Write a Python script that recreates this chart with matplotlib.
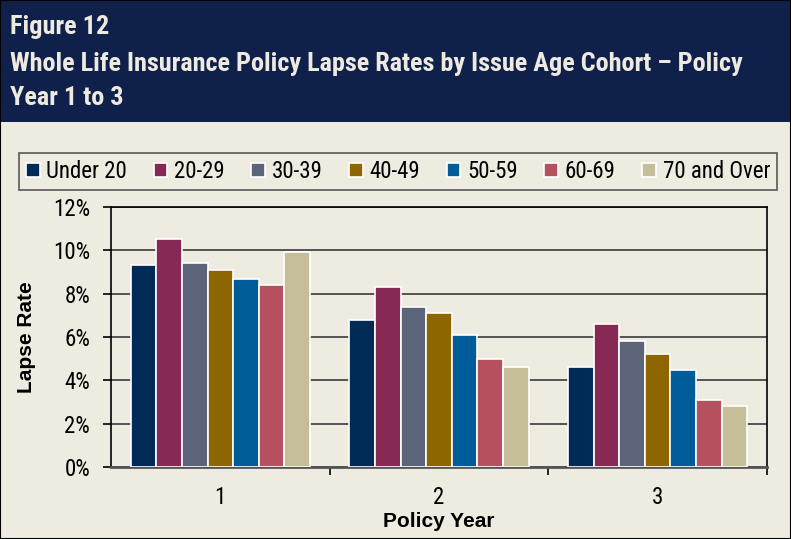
import matplotlib.pyplot as plt
from matplotlib.patches import Rectangle
from matplotlib import font_manager
import numpy as np

years = ["1", "2", "3"]
cohorts = ["Under 20", "20-29", "30-39", "40-49", "50-59", "60-69", "70 and Over"]
under_20 = [9.3, 6.8, 4.6]
age_20_29 = [10.5, 8.3, 6.6]
age_30_39 = [9.4, 7.4, 5.8]
age_40_49 = [9.1, 7.1, 5.2]
age_50_59 = [8.7, 6.1, 4.5]
age_60_69 = [8.4, 5.0, 3.1]
age_70_over = [9.9, 4.6, 2.8]
series = [under_20, age_20_29, age_30_39, age_40_49, age_50_59, age_60_69, age_70_over]
colors = ["#002B57", "#862A55", "#5B6478", "#8E6600", "#005C98", "#B5505E", "#C6BE98"]

title_lines = ["Figure 12",
               "Whole Life Insurance Policy Lapse Rates by Issue Age Cohort \u2013 Policy",
               "Year 1 to 3"]

fonts = font_manager.fontManager.ttflist
names = {f.name for f in fonts}
bold_names = {f.name for f in fonts if isinstance(f.weight, int) and f.weight >= 600}
candidates = ["Liberation Sans Narrow", "Arial Narrow", "Roboto Condensed", "Archivo Narrow",
              "PT Sans Narrow", "Open Sans Condensed"]
narrow = next((n for n in candidates if n in names), "Liberation Sans")
narrow_bold = next((n for n in candidates if n in bold_names), narrow)
plt.rcParams['font.family'] = [narrow, "DejaVu Sans"]

W, H = 791, 539
bg = "#EEEBE0"
fig = plt.figure(figsize=(W / 100, H / 100), dpi=100, facecolor=bg)

# title band
fig.patches.append(Rectangle((0, 1 - 122 / H), 1, 122 / H, transform=fig.transFigure,
                             facecolor="#0F214B", edgecolor="none", zorder=0))
fig.patches.append(Rectangle((0, 0), 1, 1, transform=fig.transFigure,
                             facecolor="none", edgecolor="black", lw=1.5, zorder=5))
title_y = [27, 64, 98]
title_txt = []
for line, yy in zip(title_lines, title_y):
    t = fig.text(10 / W, 1 - yy / H, line, color="#EEEAE0", fontsize=20, fontweight="bold",
                 family=[narrow_bold, "DejaVu Sans"], va="center", ha="left")
    title_txt.append(t)

# fit the long title line to the reference width
renderer = fig.canvas.get_renderer()
w = title_txt[1].get_window_extent(renderer).width
size = min(22, 20 * 733 / w)
for t in title_txt:
    t.set_fontsize(size)

# axes
left, right, top, bottom = 111, 767, 207, 467
ax = fig.add_axes([left / W, 1 - bottom / H, (right - left) / W, (bottom - top) / H])
ax.set_facecolor(bg)

x = np.arange(len(years))
n = len(series)
group = 0.82
bw = group / n
for i, (vals, c) in enumerate(zip(series, colors)):
    ax.bar(x - group / 2 + bw * (i + 0.5), vals, width=bw, color=c, edgecolor="white",
           linewidth=1.2, label=cohorts[i], zorder=3)

ax.set_xlim(-0.5, 2.5)
ax.set_ylim(0, 12)
ax.set_yticks(np.arange(0, 13, 2))
ax.set_yticklabels([f"{v}%" for v in range(0, 13, 2)], fontsize=16.5)
ax.yaxis.grid(True, color="#3A3A3A", lw=1.2, zorder=0)
ax.set_axisbelow(True)

ax.set_xticks([0.5, 1.5, 2.5])
ax.set_xticklabels([])
ax.set_xticks(x, minor=True)
ax.set_xticklabels(years, minor=True, fontsize=16.5)
ax.tick_params(axis="x", which="minor", length=0, pad=14)
ax.tick_params(axis="x", which="major", length=6, width=1.2, direction="out")
ax.tick_params(axis="y", length=6, width=1.2, direction="out", pad=9)
for s in ax.spines.values():
    s.set_color("black")
    s.set_linewidth(1.2)
ax.spines["bottom"].set_color("#555555")
ax.spines["bottom"].set_linewidth(2)

ax.set_xlabel("Policy Year", fontsize=15, fontweight="bold", family="Liberation Sans", labelpad=2)
ax.set_ylabel("Lapse Rate", fontsize=15, fontweight="bold", family="Liberation Sans", labelpad=12)

handles, labels = ax.get_legend_handles_labels()
leg = fig.legend(handles, labels, ncol=7, loc="lower left",
                 bbox_to_anchor=(19 / W, 1 - 190 / H, (777 - 19) / W, 37 / H),
                 mode="expand", fontsize=16.5, frameon=True, fancybox=False,
                 handlelength=0.6, handleheight=0.6, handletextpad=0.3, columnspacing=1.0,
                 borderaxespad=0, borderpad=0.3)
leg.get_frame().set_edgecolor("#333333")
leg.get_frame().set_facecolor(bg)
leg.get_frame().set_linewidth(1.2)

fig.savefig("out.png", dpi=100, facecolor=bg)
